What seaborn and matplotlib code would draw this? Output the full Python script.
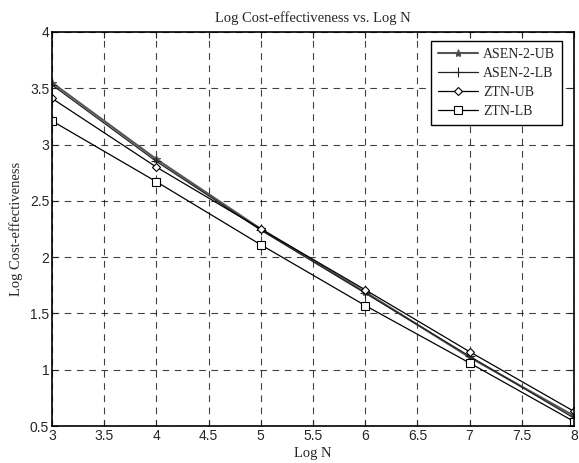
import matplotlib
matplotlib.use("Agg")
import matplotlib.pyplot as plt
import seaborn as sns
import pandas as pd

logN = [3, 4, 5, 6, 7, 8]
asen_ub = [3.55, 2.87, 2.25, 1.69, 1.11, 0.59]
asen_lb = [3.53, 2.85, 2.24, 1.68, 1.12, 0.57]
ztn_ub = [3.41, 2.80, 2.25, 1.71, 1.16, 0.63]
ztn_lb = [3.21, 2.67, 2.11, 1.57, 1.06, 0.54]
names = ["ASEN-2-UB", "ASEN-2-LB", "ZTN-UB", "ZTN-LB"]
series = [asen_ub, asen_lb, ztn_ub, ztn_lb]

sns.set_style("ticks")
plt.rcParams['font.family'] = ['Liberation Sans', 'DejaVu Sans']

fig = plt.figure(figsize=(5.79, 4.63), dpi=100)
ax = fig.add_axes([0.0898, 0.0799, 0.9016, 0.851])

styles = {
    "ASEN-2-UB": dict(marker='*', color='#555555', mfc='#444444', ms=6, lw=1.5),
    "ASEN-2-LB": dict(marker='+', color='#222222', mfc='none', ms=7, lw=0.9),
    "ZTN-UB": dict(marker='D', color='black', mfc='white', ms=4.5, lw=0.9),
    "ZTN-LB": dict(marker='s', color='black', mfc='white', ms=6, lw=0.9),
}
for name, vals in zip(names, series):
    df = pd.DataFrame({"x": logN, "y": vals})
    st = styles[name]
    sns.lineplot(data=df, x="x", y="y", ax=ax, label=name, color=st['color'],
                 marker=st['marker'], markersize=st['ms'], markerfacecolor=st['mfc'],
                 markeredgecolor=st['color'], markeredgewidth=0.8, linewidth=st['lw'])

ax.set_xlim(3, 8)
ax.set_ylim(0.5, 4)
ax.set_xticks([3, 3.5, 4, 4.5, 5, 5.5, 6, 6.5, 7, 7.5, 8])
ax.set_xticklabels(['3', '3.5', '4', '4.5', '5', '5.5', '6', '6.5', '7', '7.5', '8'])
ax.set_yticks([0.5, 1, 1.5, 2, 2.5, 3, 3.5, 4])
ax.set_yticklabels(['0.5', '1', '1.5', '2', '2.5', '3', '3.5', '4'])
ax.grid(True, color='black', linestyle=(0, (6, 5)), linewidth=0.8, alpha=0.75)
ax.tick_params(direction='in', top=True, right=True, labelsize=10, length=4, pad=2)
for s in ax.spines.values():
    s.set_visible(True)
    s.set_linewidth(1.2)
    s.set_color('black')

serif = ['Liberation Serif', 'DejaVu Serif']
ax.set_title("Log Cost-effectiveness vs. Log N", fontsize=10.5, family=serif, pad=7)
ax.set_xlabel("Log N", fontsize=10.5, family=serif, labelpad=3)
ax.set_ylabel("Log Cost-effectiveness", fontsize=10.5, family=serif, labelpad=5)

leg = ax.legend(loc='upper right', bbox_to_anchor=(0.977, 0.978),
                prop={'family': serif, 'size': 10}, frameon=True,
                fancybox=False, edgecolor='black', framealpha=1, borderpad=0.5,
                handlelength=2.9, labelspacing=0.45, handletextpad=0.35, borderaxespad=0)
leg.get_frame().set_linewidth(1.0)

fig.savefig("out.png", dpi=100)
